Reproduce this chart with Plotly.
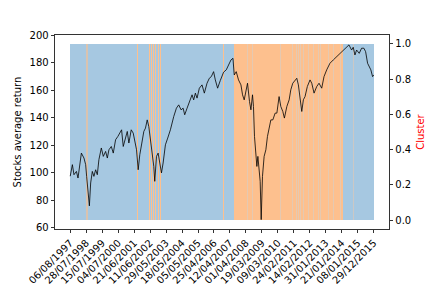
import plotly.graph_objects as go

# ---------------- data ----------------
# trading-day index of sampled points and stocks average return
day_idx = [0, 34, 59, 97, 122, 175, 215, 242, 257, 278, 300, 320, 346, 371, 398, 424, 449, 487, 518, 554,
           581, 606, 643, 674, 710, 746, 777, 804, 830, 866, 893, 918, 955, 986, 1007, 1038, 1064, 1089, 1121,
           1152, 1178, 1205, 1230, 1256, 1283, 1308, 1323, 1350, 1376, 1401, 1428, 1454, 1490, 1526, 1568,
           1620, 1662, 1698, 1735, 1767, 1792, 1829, 1870, 1907, 1932, 1959, 1985, 2021, 2063, 2099, 2141,
           2177, 2208, 2244, 2271, 2307, 2349, 2400, 2442, 2478, 2516, 2547, 2567, 2598, 2634, 2672, 2697,
           2723, 2750, 2775, 2806, 2828, 2853, 2868, 2884, 2906, 2921, 2937, 2957, 2973, 2989, 3009, 3035,
           3062, 3087, 3113, 3140, 3171, 3207, 3234, 3269, 3296, 3327, 3352, 3390, 3426, 3452, 3483, 3519,
           3546, 3571, 3597, 3624, 3649, 3675, 3711, 3753, 3780, 3816, 3858, 3894, 3936, 3972, 4014, 4065,
           4117, 4170, 4221, 4273, 4326, 4362, 4404, 4429, 4456, 4482, 4523, 4560, 4596, 4623, 4654, 4679,
           4705, 4732, 4751]
avg_return = [97.5, 105.9, 98.6, 101.0, 96.2, 114.3, 110.7, 105.9, 97.4, 85.4, 76.0, 92.6, 101.0, 97.4, 102.2,
              98.6, 109.5, 118.0, 111.9, 115.5, 110.7, 116.7, 119.1, 114.3, 124.0, 126.4, 128.8, 131.2, 119.1,
              126.4, 130.0, 121.6, 131.2, 128.8, 124.0, 116.7, 102.2, 113.1, 121.6, 130.0, 132.4, 138.4, 133.6,
              124.0, 111.9, 104.6, 93.8, 111.9, 114.3, 107.1, 99.9, 107.1, 120.3, 125.2, 131.2, 140.8, 146.9,
              149.3, 145.7, 146.9, 142.1, 146.9, 152.9, 156.6, 152.9, 157.8, 154.2, 161.4, 163.8, 157.8, 165.0,
              168.6, 169.8, 173.4, 167.4, 161.4, 167.0, 173.0, 174.7, 178.3, 181.9, 183.1, 171.0, 173.4, 167.4,
              163.8, 156.6, 152.9, 160.2, 165.0, 151.7, 145.7, 156.6, 148.1, 126.4, 111.9, 104.6, 111.9, 99.9,
              93.8, 66.0, 97.4, 111.9, 116.7, 126.4, 133.6, 138.4, 138.4, 143.3, 143.3, 155.3, 148.1, 144.5,
              139.7, 148.1, 152.9, 160.2, 165.0, 167.4, 168.6, 163.8, 155.0, 144.5, 153.0, 155.3, 162.6, 167.4,
              165.0, 157.8, 162.6, 165.0, 161.4, 169.8, 174.7, 179.5, 181.9, 184.3, 186.7, 188.6, 191.5, 192.8,
              189.1, 191.1, 185.5, 189.1, 186.7, 190.4, 190.4, 187.9, 179.5, 177.0, 174.7, 169.8, 171.0]

n_days = 4752
tick_labels = ["06/08/1997", "28/07/1998", "15/07/1999", "04/07/2000", "21/06/2001", "11/06/2002",
               "29/05/2003", "18/05/2004", "05/05/2005", "25/04/2006", "12/04/2007", "01/04/2008",
               "19/03/2009", "09/03/2010", "24/02/2011", "14/02/2012", "31/01/2013", "21/01/2014",
               "08/01/2015", "29/12/2015"]
tick_pos = list(range(0, 4751, 250))

# cluster 1 (orange) runs, as [start, end) day index
orange_start = [250, 1038, 1230, 1264, 1295, 1334, 1373, 1404, 2390, 2556]
orange_end = [272, 1058, 1245, 1280, 1311, 1350, 1389, 1420, 2400, 4273]
# cluster 0 (blue) short runs inside the orange period
blue_in_start = [2770, 2848, 2921, 3262, 3285, 3390, 3472, 3503, 3535, 3566, 3597, 3644, 3727, 3805, 3883,
                 3909, 3987, 4039, 4092, 4117, 4170, 4221]
blue_in_end = [2785, 2860, 2930, 3275, 3295, 3400, 3480, 3510, 3545, 3575, 3605, 3652, 3735, 3812, 3890,
               3917, 3995, 4046, 4100, 4125, 4178, 4230]
# faint cluster-1 days inside the late blue period
orange_late_start = [4326, 4429, 4560, 4611]
orange_late_end = [4334, 4436, 4568, 4618]

BLUE = "rgb(166,200,225)"
ORANGE = "rgb(253,192,142)"

fig = go.Figure()

# blue background (cluster 0 everywhere)
fig.add_trace(go.Bar(x=[(n_days - 1) / 2], y=[1], base=0, width=[n_days - 0.2],
                     marker=dict(color=BLUE, line=dict(width=0)), yaxis="y", showlegend=False,
                     hoverinfo="skip"))
fig.add_trace(go.Bar(x=[(s + e) / 2 for s, e in zip(orange_start, orange_end)],
                     y=[1] * len(orange_start), base=0,
                     width=[e - s for s, e in zip(orange_start, orange_end)],
                     marker=dict(color=[("rgba(253,192,142,0.6)" if s == 250 else ORANGE) for s in orange_start],
                                 line=dict(width=0)), yaxis="y", showlegend=False, hoverinfo="skip"))
fig.add_trace(go.Bar(x=[(s + e) / 2 for s, e in zip(blue_in_start, blue_in_end)],
                     y=[1] * len(blue_in_start), base=0,
                     width=[e - s for s, e in zip(blue_in_start, blue_in_end)],
                     marker=dict(color="rgba(210,208,205,0.55)", line=dict(width=0)), yaxis="y",
                     showlegend=False, hoverinfo="skip"))
fig.add_trace(go.Bar(x=[(s + e) / 2 for s, e in zip(orange_late_start, orange_late_end)],
                     y=[1] * len(orange_late_start), base=0,
                     width=[e - s for s, e in zip(orange_late_start, orange_late_end)],
                     marker=dict(color="rgba(220,200,185,0.7)", line=dict(width=0)), yaxis="y",
                     showlegend=False, hoverinfo="skip"))

# stocks average return line (overlay axis on the left, drawn above the bars)
fig.add_trace(go.Scatter(x=day_idx, y=avg_return, mode="lines", yaxis="y2",
                         line=dict(color="black", width=0.8), showlegend=False))

font = dict(family="DejaVu Sans", size=10, color="black")
fig.update_layout(
    width=432, height=288,
    margin=dict(l=55, r=43, t=35, b=59, autoexpand=False),
    paper_bgcolor="white", plot_bgcolor="white",
    barmode="overlay", bargap=0,
    font=font,
    xaxis=dict(range=[-238, 4989], tickmode="array", tickvals=tick_pos, ticktext=tick_labels,
               tickangle=-45, ticks="outside", ticklen=3.5, tickwidth=0.8, tickcolor="black",
               showline=True, linecolor="black", linewidth=0.8, mirror=True, showgrid=False,
               zeroline=False, tickfont=font, automargin=False),
    yaxis=dict(side="right", range=[-0.05, 1.05], tickmode="array",
               tickvals=[0, 0.2, 0.4, 0.6, 0.8, 1.0], ticktext=["0.0", "0.2", "0.4", "0.6", "0.8", "1.0"],
               ticks="outside", ticklen=3.5, tickwidth=0.8, tickcolor="black",
               showline=True, linecolor="black", linewidth=0.8, showgrid=False, zeroline=False,
               title=dict(text="Cluster", font=dict(family="DejaVu Sans", size=10, color="red"), standoff=6),
               tickfont=font, automargin=False),
    yaxis2=dict(overlaying="y", side="left", anchor="x", range=[59.2, 200.0], tickmode="array",
                tickvals=[60, 80, 100, 120, 140, 160, 180, 200],
                ticks="outside", ticklen=3.5, tickwidth=0.8, tickcolor="black",
                showline=True, linecolor="black", linewidth=0.8, showgrid=False, zeroline=False,
                title=dict(text="Stocks average return", font=font, standoff=6),
                tickfont=font, automargin=False),
)

fig.write_html("out.html", config={"staticPlot": True},
               post_script="document.body.style.margin='0';document.body.style.padding='0';")
